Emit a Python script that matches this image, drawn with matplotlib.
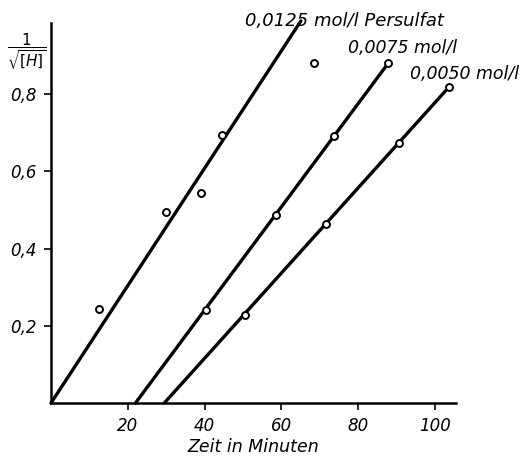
import matplotlib.pyplot as plt

# measured points (time in min, 1/sqrt[H])
t_0125 = [12.5, 29.9, 39.0, 44.5, 68.5]
v_0125 = [0.244, 0.494, 0.545, 0.694, 0.88]
t_0075 = [40.4, 58.6, 73.7, 87.8]
v_0075 = [0.242, 0.486, 0.691, 0.88]
t_0050 = [50.5, 71.6, 90.6, 103.6]
v_0050 = [0.229, 0.465, 0.675, 0.818]

# straight lines through each series (start, end)
fit_0125_t = [0.0, 65.1]
fit_0125_v = [0.0, 0.99]
fit_0075_t = [22.0, 87.8]
fit_0075_v = [0.0, 0.88]
fit_0050_t = [29.5, 103.6]
fit_0050_v = [0.0, 0.818]

labels = ["0,0125 mol/l Persulfat", "0,0075 mol/l", "0,0050 mol/l"]
x_ticks = [20, 40, 60, 80, 100]
x_ticklabels = ["20", "40", "60", "80", "100"]
y_ticks = [0.2, 0.4, 0.6, 0.8]
y_ticklabels = ["0,2", "0,4", "0,6", "0,8"]

plt.rcParams['font.family'] = ["DejaVu Sans"]
plt.rcParams['mathtext.fontset'] = 'dejavusans'

fig = plt.figure(figsize=(5.24, 4.57), dpi=100)
ax = fig.add_axes([0.0973, 0.118, 0.773, 0.832])

for ft, fv in [(fit_0125_t, fit_0125_v), (fit_0075_t, fit_0075_v), (fit_0050_t, fit_0050_v)]:
    ax.plot(ft, fv, color="black", lw=2.4, solid_capstyle="round", clip_on=False, zorder=2)

for t, v in [(t_0125, v_0125), (t_0075, v_0075), (t_0050, v_0050)]:
    ax.plot(t, v, "o", ms=5, mfc="white", mec="black", mew=1.4, ls="none", clip_on=False, zorder=3)

ax.text(50.5, 0.99, labels[0], style="italic", fontsize=13, va="center", ha="left")
ax.text(77.3, 0.92, labels[1], style="italic", fontsize=12.5, va="center", ha="left")
ax.text(93.5, 0.852, labels[2], style="italic", fontsize=12.5, va="center", ha="left")

ax.set_xlim(0, 105.5)
ax.set_ylim(0, 0.985)
ax.set_xticks(x_ticks)
ax.set_xticklabels(x_ticklabels, style="italic", fontsize=12)
ax.set_yticks(y_ticks)
ax.set_yticklabels(y_ticklabels, style="italic", fontsize=12)
ax.tick_params(direction="out", length=5, width=1.2, pad=5)
ax.set_xlabel("Zeit in Minuten", style="italic", fontsize=12.5, labelpad=2)

for side in ["top", "right"]:
    ax.spines[side].set_visible(False)
for side in ["left", "bottom"]:
    ax.spines[side].set_linewidth(1.8)

fig.text(27 / 524, 1 - 52 / 457, r"$\dfrac{1}{\sqrt{[H]}}$", fontsize=11, ha="center", va="center")

fig.savefig("out.png", dpi=100)
